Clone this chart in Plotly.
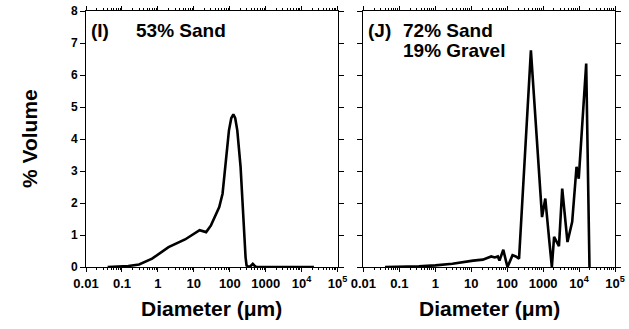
import plotly.graph_objects as go
from plotly.subplots import make_subplots

# Panel I: 53% Sand
d_I = [0.04, 0.1, 0.15, 0.3, 0.69, 1.98, 5.7, 14.5, 22, 30, 51, 63, 78, 95, 110, 126, 142, 162, 200, 237, 275, 293, 340, 390, 437, 490, 550, 1000, 5000, 22000]
v_I = [0.0, 0.01, 0.03, 0.08, 0.26, 0.62, 0.86, 1.15, 1.09, 1.30, 1.87, 2.29, 3.33, 4.27, 4.65, 4.77, 4.65, 4.27, 3.13, 1.56, 0.31, 0.05, 0.0, 0.04, 0.1, 0.04, 0.0, 0.0, 0.0, 0.0]

# Panel J: 72% Sand, 19% Gravel
d_J = [0.04, 0.1, 0.35, 1.0, 3.0, 11.3, 21, 29, 36, 45, 55, 61, 78, 92, 102, 141, 174, 214, 457, 933, 1150, 1480, 1750, 2020, 2760, 3400, 4760, 6440, 8500, 9800, 15800, 19500, 21000]
v_J = [0.0, 0.0, 0.02, 0.05, 0.1, 0.2, 0.23, 0.29, 0.33, 0.3, 0.33, 0.2, 0.54, 0.2, 0.0, 0.37, 0.33, 0.26, 6.77, 1.56, 2.14, 0.83, 0.0, 0.94, 0.65, 2.45, 0.78, 1.41, 3.13, 2.76, 6.36, 0.0, 0.0]

x_tickvals = [0.01, 0.1, 1, 10, 100, 1000, 1e4, 1e5]
x_ticktext = ["0.01", "0.1", "1", "10", "100", "1000", "10<sup>4</sup>", "10<sup>5</sup>"]
y_tickvals = [0, 1, 2, 3, 4, 5, 6, 7, 8]
x_minor = [k * 10 ** n for n in range(-2, 5) for k in range(2, 10)]

FONT = "Arial, Liberation Sans, sans-serif"

fig = make_subplots(rows=1, cols=2, horizontal_spacing=0.05)
fig.add_trace(go.Scatter(x=d_I, y=v_I, mode="lines", line=dict(color="black", width=2.6)), row=1, col=1)
fig.add_trace(go.Scatter(x=d_J, y=v_J, mode="lines", line=dict(color="black", width=2.6)), row=1, col=2)

W, H = 629, 329
ml, mr, mt, mb = 86, 4.7, 10.7, 62.3
pw = W - ml - mr
ph = H - mt - mb
dom1 = [0, 256 / pw]
dom2 = [(368.3 - ml) / pw, 1]

xcommon = dict(
    type="log", range=[-2, 5], tickmode="array", tickvals=x_tickvals, ticktext=x_ticktext,
    ticks="outside", ticklen=4, tickwidth=1, tickcolor="black",
    showline=True, linecolor="black", linewidth=1, mirror="ticks",
    showgrid=False, zeroline=False,
    tickfont=dict(family=FONT, size=13, color="black", weight="bold"),
    minor=dict(tickmode="array", tickvals=x_minor, ticks="outside", ticklen=2, tickwidth=1,
               tickcolor="black", showgrid=False),
)
ycommon = dict(
    range=[0, 8], tickvals=y_tickvals, ticks="outside", ticklen=5, tickwidth=1, tickcolor="black",
    showline=True, linecolor="black", linewidth=1, mirror="ticks",
    showgrid=False, zeroline=False,
    tickfont=dict(family=FONT, size=12, color="black", weight="bold"),
)

fig.update_xaxes(**xcommon, domain=dom1, row=1, col=1)
fig.update_xaxes(**xcommon, domain=dom2, row=1, col=2)
fig.update_yaxes(**ycommon, row=1, col=1)
fig.update_yaxes(**ycommon, showticklabels=False, row=1, col=2)

afont = dict(family=FONT, size=19, color="black", weight="bold")
tfont = dict(family=FONT, size=21, color="black", weight="bold")

# panel labels (domain coordinates)
labels = [
    ("(I)", "x domain", "y domain", 0.012, 0.925),
    ("53% Sand", "x domain", "y domain", 0.19, 0.925),
    ("(J)", "x2 domain", "y2 domain", 0.012, 0.925),
    ("72% Sand", "x2 domain", "y2 domain", 0.15, 0.925),
    ("19% Gravel", "x2 domain", "y2 domain", 0.15, 0.846),
]
for t, xr, yr, x, y in labels:
    fig.add_annotation(text=t, x=x, y=y, xref=xr, yref=yr, xanchor="left", yanchor="middle",
                       showarrow=False, font=afont)

# axis titles
fig.add_annotation(text="% Volume", x=(28 - ml) / pw, y=0.5, xref="paper", yref="paper",
                   textangle=-90, xanchor="center", yanchor="middle", showarrow=False, font=tfont)
for cx in (214, 496.3):
    fig.add_annotation(text="Diameter (\u03bcm)", x=(cx - ml) / pw, y=-(308 - (H - mb)) / ph,
                       xref="paper", yref="paper", xanchor="center", yanchor="middle",
                       showarrow=False, font=tfont)

fig.update_layout(
    width=W, height=H, margin=dict(l=ml, r=mr, t=mt, b=mb),
    paper_bgcolor="white", plot_bgcolor="white", showlegend=False,
)
fig.write_html("out.html")
